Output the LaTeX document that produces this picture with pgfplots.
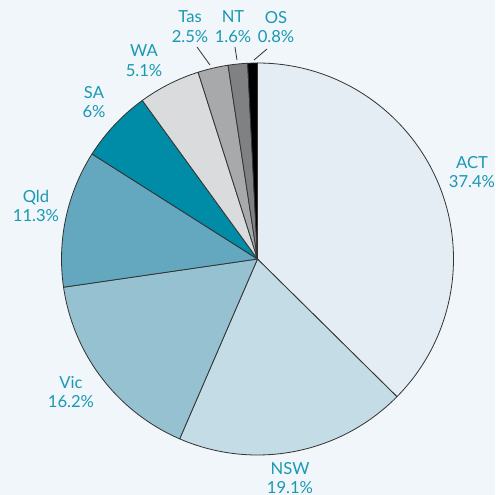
\documentclass[border=0pt]{standalone}
\usepackage{fontspec}
\setmainfont{Lato}
\usepackage{pgfplots}
\pgfplotsset{compat=1.18}

\definecolor{bgc}{HTML}{F0F6F9}
\definecolor{txt}{HTML}{1A98B4}
\definecolor{edge}{HTML}{333333}
\definecolor{cACT}{HTML}{E4EDF3}
\definecolor{cNSW}{HTML}{C4DCE5}
\definecolor{cVic}{HTML}{96C1D0}
\definecolor{cQld}{HTML}{64A8C0}
\definecolor{cSA}{HTML}{008BA6}
\definecolor{cWA}{HTML}{DADBDC}
\definecolor{cTas}{HTML}{A7A9AB}
\definecolor{cNT}{HTML}{7F8183}
\definecolor{cOS}{HTML}{000000}

\tikzset{lbl/.style={font=\fontsize{8.3}{9.9}\selectfont, text=txt, align=center, inner sep=0pt}}

\begin{document}
\begin{tikzpicture}
\begin{axis}[
  x=0.5pt, y=0.5pt,
  xmin=0, xmax=495, ymin=0, ymax=495,
  hide axis, clip=false,
]
% background
\fill[bgc] (axis cs:0,0) rectangle (axis cs:495,495);

% slices: share in %, clockwise from 12 o'clock
\pgfmathsetmacro\startang{90}
\foreach \v/\c in {37.4/cACT, 19.1/cNSW, 16.2/cVic, 11.3/cQld, 6/cSA,
                   5.1/cWA, 2.5/cTas, 1.6/cNT, 0.8/cOS}{
  \pgfmathsetmacro\endang{\startang-3.6*\v}
  \edef\temp{\noexpand\filldraw[fill=\c, draw=edge, line width=0.4pt, line join=round]
    (axis cs:257.5,236) -- ++(\startang:98pt)
    arc[start angle=\startang, end angle=\endang, radius=98pt] -- cycle;}
  \temp
  \global\let\startang\endang
}

% leader lines for the small slices
\draw[edge, line width=0.4pt] (axis cs:197,448) -- (axis cs:210,430);
\draw[edge, line width=0.4pt] (axis cs:235,448) -- (axis cs:237,435);
\draw[edge, line width=0.4pt] (axis cs:267,446) -- (axis cs:254,435);

% labels
\node[lbl] at (axis cs:472,323) {ACT\\37.4\%};
\node[lbl] at (axis cs:290,17)  {NSW\\19.1\%};
\node[lbl] at (axis cs:71,103)  {Vic\\16.2\%};
\node[lbl] at (axis cs:36,289)  {Qld\\11.3\%};
\node[lbl] at (axis cs:94,393)  {SA\\6\%};
\node[lbl] at (axis cs:144,434) {WA\\5.1\%};
\node[lbl] at (axis cs:190,468) {Tas\\2.5\%};
\node[lbl] at (axis cs:233,468) {NT\\1.6\%};
\node[lbl] at (axis cs:276,468) {OS\\0.8\%};
\end{axis}
\pgfresetboundingbox
\path (0,0) rectangle (247.5pt,247.5pt);
\end{tikzpicture}
\end{document}
